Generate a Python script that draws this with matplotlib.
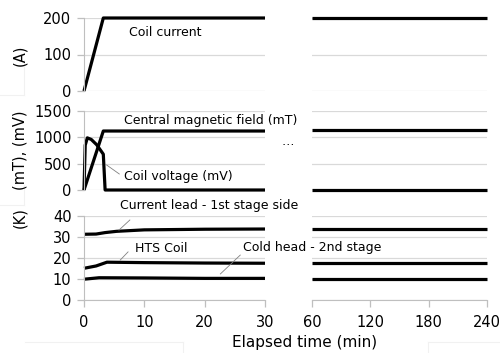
import numpy as np
import matplotlib.pyplot as plt
from matplotlib.lines import Line2D

# time axes (min): ramp-up segment and long-hold segment
t_cur = [0, 3.2, 30]
coil_current = [0, 200, 200]
t_cur_hold = [60, 240]
coil_current_hold = [200, 200]

t_field = [0, 3.2, 30]
central_field = [0, 1120, 1120]
t_field_hold = [60, 240]
central_field_hold = [1130, 1130]

t_volt = [0, 0.2, 0.55, 1.2, 2.1, 3.2, 3.5, 30]
coil_voltage = [0, 850, 990, 960, 860, 680, 0, 0]
t_volt_hold = [60, 240]
coil_voltage_hold = [0, 0]

t_lead = [0, 2, 3.5, 5.4, 10, 20, 30]
lead_temp = [31.3, 31.4, 32.1, 32.7, 33.4, 33.7, 33.8]
t_lead_hold = [60, 240]
lead_temp_hold = [33.8, 33.8]

t_hts = [0, 2, 3.8, 10, 20, 30]
hts_temp = [15.1, 16.2, 18.0, 17.8, 17.6, 17.5]
t_hts_hold = [60, 240]
hts_temp_hold = [17.5, 17.5]

t_cold = [0, 2.5, 10, 20, 30]
cold_temp = [9.9, 10.6, 10.5, 10.3, 10.3]
t_cold_hold = [60, 240]
cold_temp_hold = [10.2, 10.2]

left_ticks = [0, 10, 20, 30]
right_ticks = [60, 120, 180, 240]

plt.rcParams['font.family'] = 'DejaVu Sans'
GRID = '#d9d9d9'
AXIS = '#bfbfbf'
LW = 2.3

fig = plt.figure(figsize=(5.0, 3.53), dpi=100)

W, H = 500, 353
def box(x0, x1, y0, y1):
    return [x0 / W, 1 - y1 / H, (x1 - x0) / W, (y1 - y0) / H]

rows = [(18, 91), (111, 190), (216, 300)]
ylims = [(0, 200), (0, 1500), (0, 40)]
yticks = [[0, 100, 200], [0, 500, 1000, 1500], [0, 10, 20, 30, 40]]

axes = []
for i, (y0, y1) in enumerate(rows):
    axl = fig.add_axes(box(84, 265, y0, y1))
    axr = fig.add_axes(box(312, 487, y0, y1))
    axl.set_xlim(0, 30)
    axr.set_xlim(60, 240)
    for ax in (axl, axr):
        ax.set_facecolor('none')
        ax.set_ylim(*ylims[i])
        ax.set_yticks(yticks[i])
        ax.grid(axis='y', color=GRID, lw=0.9)
        ax.set_axisbelow(True)
        for s in ax.spines.values():
            s.set_visible(False)
        ax.tick_params(axis='both', colors=AXIS, labelcolor='black',
                       labelsize=10.5, length=5, width=0.9)
    axl.spines['left'].set_visible(True)
    axl.spines['left'].set_color(AXIS)
    axr.tick_params(axis='y', left=False, labelleft=False)
    if i < 2:
        for ax in (axl, axr):
            ax.tick_params(axis='x', bottom=False, labelbottom=False)
    else:
        axl.set_xticks(left_ticks)
        axr.set_xticks(right_ticks)
        for ax in (axl, axr):
            ax.spines['bottom'].set_visible(True)
            ax.spines['bottom'].set_color(AXIS)
            ax.tick_params(axis='x', pad=6)
    axl.tick_params(axis='y', pad=4)
    axes.append((axl, axr))

def draw(ax, x, y):
    ax.plot(x, y, color='black', lw=LW, clip_on=False, solid_capstyle='butt')

(a1, b1), (a2, b2), (a3, b3) = axes
draw(a1, t_cur, coil_current)
draw(b1, t_cur_hold, coil_current_hold)
draw(a2, t_field, central_field)
draw(b2, t_field_hold, central_field_hold)
draw(a2, t_volt, coil_voltage)
draw(b2, t_volt_hold, coil_voltage_hold)
draw(a3, t_lead, lead_temp)
draw(b3, t_lead_hold, lead_temp_hold)
draw(a3, t_hts, hts_temp)
draw(b3, t_hts_hold, hts_temp_hold)
draw(a3, t_cold, cold_temp)
draw(b3, t_cold_hold, cold_temp_hold)

# series labels
fs = 9
def label(ax, x, y, s, ha='left'):
    ax.text(x, y, s, fontsize=fs, va='center', ha=ha, clip_on=False)

def leader(ax, p0, p1):
    ax.plot([p0[0], p1[0]], [p0[1], p1[1]], color='#808080', lw=0.6,
            clip_on=False)

label(a1, 7.5, 159, 'Coil current')
label(a2, 6.6, 1329, 'Central magnetic field (mT)')
label(a2, 33.8, 930, '…', ha='center')
label(a2, 6.6, 247, 'Coil voltage (mV)')
leader(a2, (3.75, 475), (5.85, 304))
label(a3, 6.0, 44.8, 'Current lead - 1st stage side')
leader(a3, (5.8, 33.3), (7.6, 38.1))
label(a3, 8.5, 24.3, 'HTS Coil')
leader(a3, (6.0, 19.0), (7.3, 22.9))
label(a3, 26.4, 25.2, 'Cold head - 2nd stage')
leader(a3, (22.6, 12.4), (25.9, 21.4))

# axis titles
fig.text(20 / W, 1 - 55 / H, '(A)', rotation=90, fontsize=10.5,
         ha='center', va='center')
fig.text(20 / W, 1 - 150 / H, '(mT), (mV)', rotation=90, fontsize=10.5,
         ha='center', va='center')
fig.text(20 / W, 1 - 218 / H, '(K)', rotation=90, fontsize=10.5,
         ha='center', va='center')
fig.text(305 / W, 1 - 343 / H, 'Elapsed time (min)', fontsize=11,
         ha='center', va='center')

# faint chart-area borders
frame = '#f1f1f1'
for xs, ys in [((0, 24), (95, 95)), ((24, 24), (60, 95)),
               ((0, 24), (205, 205)), ((24, 24), (185, 205)),
               ((25, 183), (342, 342)), ((183, 183), (342, 353)),
               ((428, 500), (342, 342)), ((428, 428), (342, 353))]:
    fig.add_artist(Line2D([x / W for x in xs], [1 - y / H for y in ys],
                          color=frame, lw=0.8))

fig.savefig('out.png', dpi=100)
